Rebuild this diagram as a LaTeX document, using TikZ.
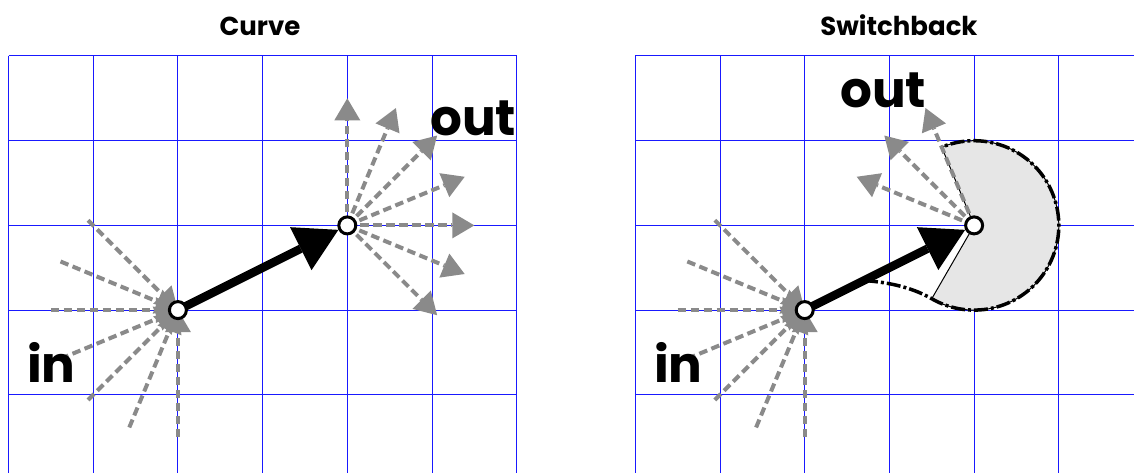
\documentclass[tikz,border=0pt]{standalone}
\usepackage{fontspec}
\setmainfont{Poppins}
\usetikzlibrary{arrows.meta}
\definecolor{raygray}{RGB}{138,138,138}
\definecolor{gridblue}{RGB}{25,25,255}
\definecolor{secgray}{RGB}{230,230,230}
\begin{document}
\begin{tikzpicture}[x=1pt,y=1pt,
  gridline/.style={draw=gridblue,line width=1pt},
  ray/.style={draw=raygray,line width=4pt,dash pattern=on 8.5pt off 4.5pt},
  rayin/.style={ray,-{Triangle[length=22pt,width=26pt,line width=0pt,fill=raygray]}},
  rayout/.style={ray,-{Triangle[length=22pt,width=26pt,line width=0pt,fill=raygray]}},
  joint/.style={circle,draw=black,fill=white,line width=3pt,minimum size=17pt,inner sep=0pt},
  bigarrow/.style={draw=black,line width=8.5pt,shorten >=10pt,-{Triangle[length=42pt,width=48pt,line width=0pt]}},
  bigtext/.style={font=\bfseries\fontsize{50}{55}\selectfont,inner sep=0pt,anchor=base west},
  headtext/.style={font=\bfseries\fontsize{26}{30}\selectfont,inner sep=0pt,anchor=base},
  sector/.style={fill=secgray,draw=black,line width=1pt},
  arcline/.style={draw=black,line width=3.5pt,dash pattern=on 14pt off 3pt on 3pt off 3pt}]
\useasboundingbox (0,0) rectangle (1134,473);

% titles
\node[headtext] (tcurve) at (260,437) {Curve};
\node[headtext] (tswitch) at (899,437) {Switchback};

% ---------- left panel ----------
\begin{scope}[shift={(8.5,417)},x=84.7pt,y=84.7pt]
  \foreach \i in {0,...,6} \draw[gridline] (\i,0) -- (\i,-4.93);
  \foreach \j in {0,...,4} \draw[gridline] (0,-\j) -- (6,-\j);
  \coordinate (inL) at (2,-3);
  \coordinate (outL) at (4,-2);
  \foreach \a in {135,157.5,180,202.5,225,247.5,270}
    \draw[rayin] ([shift={(\a:1.5)}]inL) -- (inL);
  \foreach \a in {90,67.5,45,22.5,0,-22.5,-45}
    \draw[rayout] (outL) -- ([shift={(\a:1.5)}]outL);
  \draw[bigarrow] (inL) -- (outL);
  \node[joint] (inLc) at (inL) {};
  \node[joint] (outLc) at (outL) {};
\end{scope}
\node[bigtext] (inLtext) at (27,90) {in};
\node[bigtext] (outLtext) at (430,337) {out};

% ---------- right panel ----------
\begin{scope}[shift={(635.3,417)},x=84.7pt,y=84.7pt]
  \foreach \i in {0,...,5} \draw[gridline] (\i,0) -- (\i,-4.93);
  \foreach \j in {0,...,4} \draw[gridline] (0,-\j) -- (6,-\j);
  \coordinate (inR) at (2,-3);
  \coordinate (outR) at (4,-2);
  \coordinate (arcstart) at (3.5,-2.866);
  \coordinate (curvestart) at (2.7,-2.65);
  \path[sector] (outR) -- (arcstart)
    arc[start angle=-120,end angle=112.5,radius=1] -- cycle;
  \draw[arcline] (curvestart) .. controls (2.95,-2.67) and (3.24,-2.716) .. (arcstart)
    arc[start angle=-120,end angle=112.5,radius=1];
  \foreach \a in {135,157.5,180,202.5,225,247.5,270}
    \draw[rayin] ([shift={(\a:1.5)}]inR) -- (inR);
  \foreach \a in {112.5,135,157.5}
    \draw[rayout] (outR) -- ([shift={(\a:1.5)}]outR);
  \draw[bigarrow] (inR) -- (outR);
  \node[joint] (inRc) at (inR) {};
  \node[joint] (outRc) at (outR) {};
\end{scope}
\node[bigtext] (inRtext) at (654,90) {in};
\node[bigtext] (outRtext) at (840,365) {out};
\end{tikzpicture}
\end{document}
